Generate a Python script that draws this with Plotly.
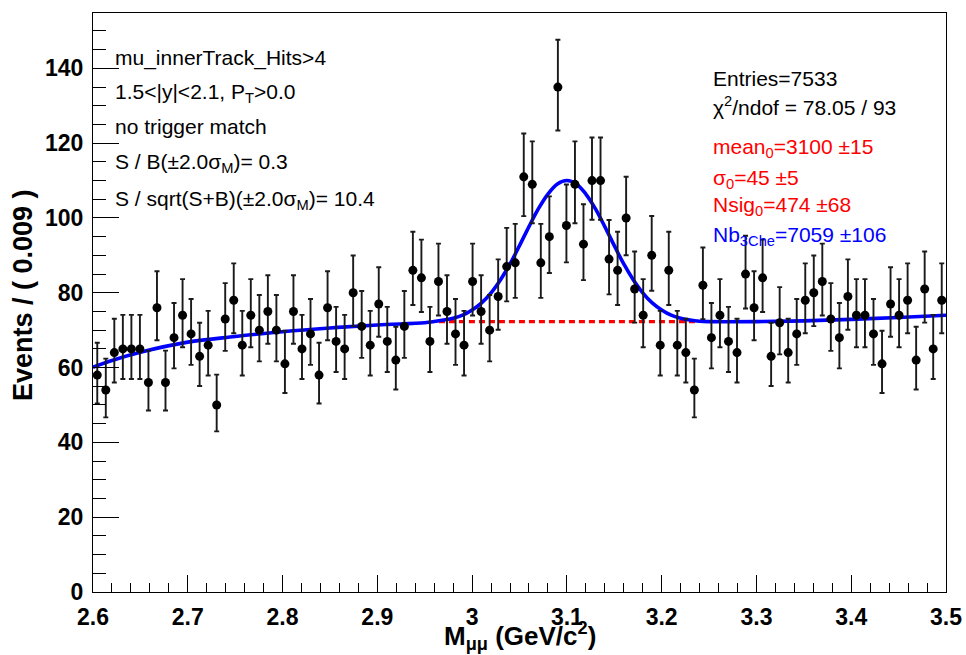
import numpy as np
import plotly.graph_objects as go

# ---------------- data ----------------
mass_lo = 2.6
bin_width = 0.009
counts = [58, 54, 64, 65, 65, 65, 56, 76, 56, 68, 74, 69, 63, 66, 50, 73, 78,
          66, 74, 70, 75, 70, 61, 75, 65, 69, 58, 76, 67, 65, 80, 71, 66, 77,
          67, 62, 71, 86, 84, 67, 83, 75, 69, 66, 83, 75, 70, 79, 87, 88,
          111, 109, 88, 95, 135, 98, 109, 93, 110, 110, 89, 86, 100, 81, 74, 90, 66,
          86, 66, 64, 54, 82, 68, 74, 67, 64, 85, 76, 84, 63, 72, 64, 69, 78, 80,
          83, 73, 68, 79, 74, 74, 69, 61, 77, 74, 78, 62, 81, 65, 78]

fit_x = [2.60, 2.62, 2.65, 2.70, 2.75, 2.80, 2.85, 2.90, 2.95, 2.96, 2.97, 2.98,
         2.99, 3.00, 3.01, 3.02, 3.03, 3.04, 3.05, 3.06, 3.07, 3.08, 3.09, 3.10,
         3.11, 3.12, 3.13, 3.14, 3.15, 3.16, 3.17, 3.18, 3.19, 3.20, 3.21, 3.22,
         3.23, 3.24, 3.25, 3.30, 3.35, 3.40, 3.45, 3.50]
fit_y = [60.1, 61.9, 64.1, 66.8, 68.3, 69.6, 70.6, 71.4, 72.0, 72.3, 72.7, 73.2,
         74.0, 75.4, 77.3, 80.0, 83.5, 87.7, 92.6, 97.7, 102.5, 106.4, 109.1, 110.0,
         109.1, 106.4, 102.5, 97.7, 92.6, 87.7, 83.5, 80.0, 77.3, 75.4, 74.0, 73.2,
         72.7, 72.4, 72.3, 72.3, 72.5, 72.9, 73.4, 74.0]

bkg_x = [2.965, 3.10, 3.235]
bkg_y = [72.3, 72.3, 72.3]

x_tickvals = [2.6, 2.7, 2.8, 2.9, 3.0, 3.1, 3.2, 3.3, 3.4, 3.5]
x_ticktext = ["2.6", "2.7", "2.8", "2.9", "3", "3.1", "3.2", "3.3", "3.4", "3.5"]
y_tickvals = [0, 20, 40, 60, 80, 100, 120, 140]

left_text = [
    "mu_innerTrack_Hits&gt;4",
    "1.5&lt;|y|&lt;2.1, P<sub>T</sub>&gt;0.0",
    "no trigger match",
    "S / B(±2.0σ<sub>M</sub>)= 0.3",
    "S / sqrt(S+B)(±2.0σ<sub>M</sub>)= 10.4",
]
right_text = [
    ("Entries=7533", "black"),
    ("χ<sup>2</sup>/ndof = 78.05 / 93", "black"),
    ("mean<sub>0</sub>=3100 ±15", "#ff0000"),
    ("σ<sub>0</sub>=45 ±5", "#ff0000"),
    ("Nsig<sub>0</sub>=474 ±68", "#ff0000"),
    ("Nb<sub>3Che</sub>=7059 ±106", "#0000ff"),
]

# ---------------- derived quantities ----------------
n = np.array(counts, dtype=float)
mass = mass_lo + bin_width * (np.arange(len(counts)) + 0.5)
# Poisson (Garwood-like) 68% interval, Wilson-Hilferty approximation
up = (n + 1) * (1 - 1 / (9 * (n + 1)) + 1 / (3 * np.sqrt(n + 1))) ** 3 - n
lo = n - n * (1 - 1 / (9 * n) - 1 / (3 * np.sqrt(n))) ** 3

FONT = "Liberation Sans, Arial, Helvetica, sans-serif"

# plot frame in pixels
L, R, T, B = 93, 20, 13, 63
W, H = 966, 655
pw, ph = W - L - R, H - T - B


def px(xpix):
    return (xpix - L) / pw


def py(ypix):
    return (H - B - ypix) / ph


fig = go.Figure()
fig.add_trace(go.Scatter(
    x=bkg_x, y=bkg_y, mode="lines",
    line=dict(color="#ff0000", width=3.2, dash="6px,4px"),
    hoverinfo="skip", showlegend=False))
fig.add_trace(go.Scatter(
    x=fit_x, y=fit_y, mode="lines", line_shape="spline",
    line=dict(color="#0000ff", width=3.6),
    hoverinfo="skip", showlegend=False))
fig.add_trace(go.Scatter(
    x=mass, y=n, mode="markers",
    marker=dict(color="black", size=9),
    error_y=dict(type="data", array=up, arrayminus=lo, symmetric=False,
                 color="#1a1a1a", thickness=1.9, width=2.5),
    showlegend=False))

annotations = []
left_y = [58.3, 93, 126.7, 163.3, 199.7]
for txt, yy in zip(left_text, left_y):
    annotations.append(dict(
        text=txt, xref="paper", yref="paper", x=px(113), y=py(yy),
        xanchor="left", yanchor="middle", showarrow=False,
        font=dict(family=FONT, size=21, color="black")))
right_y = [78, 106.3, 147.7, 179, 205.7, 236]
for (txt, col), yy in zip(right_text, right_y):
    annotations.append(dict(
        text=txt, xref="paper", yref="paper", x=px(711), y=py(yy),
        xanchor="left", yanchor="middle", showarrow=False,
        font=dict(family=FONT, size=21, color=col)))

annotations.append(dict(
    text="Events / ( 0.009 )", xref="paper", yref="paper",
    x=px(23), y=py(295), xanchor="center", yanchor="middle", textangle=-90,
    showarrow=False, font=dict(family=FONT, size=27, color="black", weight="bold")))
annotations.append(dict(
    text="M<sub>μμ</sub> (GeV/c<sup>2</sup>)", xref="paper", yref="paper",
    x=px(520), y=py(636), xanchor="center", yanchor="middle",
    showarrow=False, font=dict(family=FONT, size=26, color="black", weight="bold")))

fig.update_layout(
    width=W, height=H,
    margin=dict(l=L, r=R, t=T, b=B, autoexpand=False),
    plot_bgcolor="white", paper_bgcolor="white",
    annotations=annotations,
    showlegend=False,
)
fig.update_xaxes(
    range=[2.6, 3.5], showgrid=False, zeroline=False, automargin=False,
    showline=True, linecolor="black", linewidth=1.2, mirror=True,
    tickmode="array", tickvals=x_tickvals, ticktext=x_ticktext,
    ticks="inside", ticklen=17, tickwidth=1.2, tickcolor="black",
    minor=dict(ticks="inside", ticklen=8.5, dtick=0.02, tick0=2.6,
               tickwidth=1.2, tickcolor="black", showgrid=False),
    tickfont=dict(family=FONT, size=23, color="black", weight="bold"),
    ticklabelstandoff=4,
)
fig.update_yaxes(
    range=[0, 154.8], showgrid=False, zeroline=False, automargin=False,
    showline=True, linecolor="black", linewidth=1.2, mirror=True,
    tickmode="array", tickvals=y_tickvals,
    ticks="inside", ticklen=26, tickwidth=1.2, tickcolor="black",
    minor=dict(ticks="inside", ticklen=13, dtick=5, tick0=0,
               tickwidth=1.2, tickcolor="black", showgrid=False),
    tickfont=dict(family=FONT, size=23, color="black", weight="bold"),
    ticklabelstandoff=4,
)

fig.write_html(
    "out.html",
    config={"displayModeBar": False},
    post_script="document.body.style.margin='0';document.body.style.overflow='hidden';",
)
